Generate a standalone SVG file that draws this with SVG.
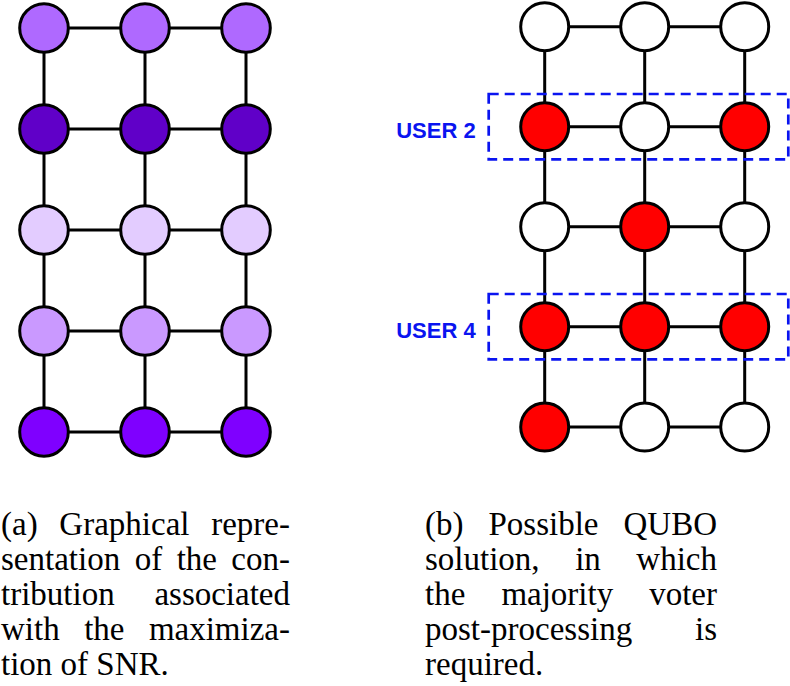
<svg xmlns="http://www.w3.org/2000/svg" width="790" height="686" viewBox="0 0 790 686">
<style>
.e{stroke:#000;stroke-width:3;fill:none}
.n{stroke:#000;stroke-width:3}
.w{fill:#fff}.r{fill:#ff0000}
.p1{fill:#af69ff}.p2{fill:#6000c8}.p3{fill:#e3ccff}.p4{fill:#ca99ff}.p5{fill:#7f00ff}
.box{fill:none;stroke:#0a14f0;stroke-width:2.7;stroke-dasharray:10 6}
.lbl{font-family:"Liberation Sans",Arial,sans-serif;font-weight:bold;font-size:22px;fill:#0a14f0}
.cap{font-family:"Liberation Serif","Times New Roman",serif;font-size:33px;fill:#000}
</style>
<rect width="790" height="686" fill="#fff"/>
<g id="connectors">
<path class="e" d="M44 28H246M44 129H246M44 230H246M44 331H246M44 432H246M44 28V432M145 28V432M246 28V432"/>
<path class="e" d="M544.7 26.7H744.7M544.7 126.7H744.7M544.7 226.7H744.7M544.7 326.7H744.7M544.7 427H744.7M544.7 26.7V427M644.7 26.7V427M744.7 26.7V427"/>
</g>
<g id="left-nodes">
<g id="a11"><circle class="n p1" cx="44" cy="28" r="24.3"/></g>
<g id="a12"><circle class="n p1" cx="145" cy="28" r="24.3"/></g>
<g id="a13"><circle class="n p1" cx="246" cy="28" r="24.3"/></g>
<g id="a21"><circle class="n p2" cx="44" cy="129" r="24.3"/></g>
<g id="a22"><circle class="n p2" cx="145" cy="129" r="24.3"/></g>
<g id="a23"><circle class="n p2" cx="246" cy="129" r="24.3"/></g>
<g id="a31"><circle class="n p3" cx="44" cy="230" r="24.3"/></g>
<g id="a32"><circle class="n p3" cx="145" cy="230" r="24.3"/></g>
<g id="a33"><circle class="n p3" cx="246" cy="230" r="24.3"/></g>
<g id="a41"><circle class="n p4" cx="44" cy="331" r="24.3"/></g>
<g id="a42"><circle class="n p4" cx="145" cy="331" r="24.3"/></g>
<g id="a43"><circle class="n p4" cx="246" cy="331" r="24.3"/></g>
<g id="a51"><circle class="n p5" cx="44" cy="432" r="24.3"/></g>
<g id="a52"><circle class="n p5" cx="145" cy="432" r="24.3"/></g>
<g id="a53"><circle class="n p5" cx="246" cy="432" r="24.3"/></g>
</g>
<g id="right-nodes">
<g id="b11"><circle class="n w" cx="544.7" cy="26.7" r="24"/></g>
<g id="b12"><circle class="n w" cx="644.7" cy="26.7" r="24"/></g>
<g id="b13"><circle class="n w" cx="744.7" cy="26.7" r="24"/></g>
<g id="b21"><circle class="n r" cx="544.7" cy="126.7" r="24"/></g>
<g id="b22"><circle class="n w" cx="644.7" cy="126.7" r="24"/></g>
<g id="b23"><circle class="n r" cx="744.7" cy="126.7" r="24"/></g>
<g id="b31"><circle class="n w" cx="544.7" cy="226.7" r="24"/></g>
<g id="b32"><circle class="n r" cx="644.7" cy="226.7" r="24"/></g>
<g id="b33"><circle class="n w" cx="744.7" cy="226.7" r="24"/></g>
<g id="b41"><circle class="n r" cx="544.7" cy="326.7" r="24"/></g>
<g id="b42"><circle class="n r" cx="644.7" cy="326.7" r="24"/></g>
<g id="b43"><circle class="n r" cx="744.7" cy="326.7" r="24"/></g>
<g id="b51"><circle class="n r" cx="544.7" cy="427" r="24"/></g>
<g id="b52"><circle class="n w" cx="644.7" cy="427" r="24"/></g>
<g id="b53"><circle class="n w" cx="744.7" cy="427" r="24"/></g>
</g>
<g id="user2">
<rect class="box" x="488.7" y="94" width="299.6" height="65.3"/>
<text class="lbl" x="475.7" y="137.7" text-anchor="end">USER 2</text>
</g>
<g id="user4">
<rect class="box" x="488.7" y="294" width="299.6" height="65.3"/>
<text class="lbl" x="475.7" y="337.7" text-anchor="end">USER 4</text>
</g>
<g id="caption-a" class="cap">
<text x="1" y="535">(a)</text>
<text x="124.4" y="535" text-anchor="middle">Graphical</text>
<text x="290" y="535" text-anchor="end">repre-</text>
<text x="1" y="570">sentation</text>
<text x="134.7" y="570">of</text>
<text x="176.7" y="570">the</text>
<text x="290" y="570" text-anchor="end">con-</text>
<text x="1" y="605">tribution</text>
<text x="290" y="605" text-anchor="end">associated</text>
<text x="1" y="640">with</text>
<text x="104.3" y="640" text-anchor="middle">the</text>
<text x="290" y="640" text-anchor="end">maximiza-</text>
<text x="1" y="675">tion of SNR.</text>
</g>
<g id="caption-b" class="cap">
<text x="425" y="535">(b)</text>
<text x="543.5" y="535" text-anchor="middle">Possible</text>
<text x="717" y="535" text-anchor="end">QUBO</text>
<text x="425" y="570">solution,</text>
<text x="588" y="570" text-anchor="middle">in</text>
<text x="717" y="570" text-anchor="end">which</text>
<text x="425" y="605">the</text>
<text x="557.3" y="605" text-anchor="middle">majority</text>
<text x="717" y="605" text-anchor="end">voter</text>
<text x="425" y="640">post-processing</text>
<text x="717" y="640" text-anchor="end">is</text>
<text x="425" y="675">required.</text>
</g>
</svg>
